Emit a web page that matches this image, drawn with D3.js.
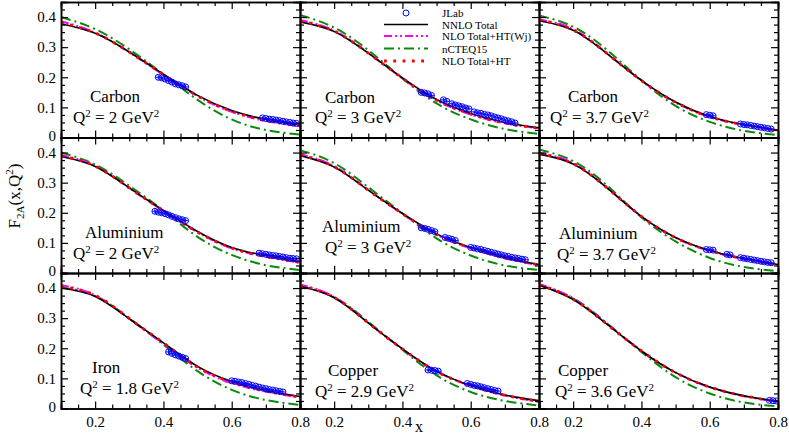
<!DOCTYPE html>
<html>
<head>
<meta charset="utf-8">
<script src="https://d3js.org/d3.v7.min.js"></script>
<style>
body { margin: 0; background: #fff; }
</style>
</head>
<body>
<div id="chart"></div>
<script>
var serif = "'Liberation Serif', 'Times New Roman', serif";

var xGrid = [0.1, 0.2, 0.3, 0.4, 0.5, 0.6, 0.7, 0.8];

// panels, row by row
var nucleus = ["Carbon", "Carbon", "Carbon", "Aluminium", "Aluminium", "Aluminium", "Iron", "Copper", "Copper"];
var q2 = ["2", "3", "3.7", "2", "3", "3.7", "1.8", "2.9", "3.6"];

var nnloTotal = [
    [0.378, 0.346, 0.284, 0.210, 0.140, 0.090, 0.060, 0.042],
    [0.384, 0.352, 0.280, 0.198, 0.126, 0.080, 0.050, 0.032],
    [0.388, 0.356, 0.278, 0.190, 0.118, 0.070, 0.043, 0.024],
    [0.387, 0.354, 0.283, 0.208, 0.138, 0.085, 0.058, 0.038],
    [0.390, 0.352, 0.275, 0.198, 0.130, 0.085, 0.052, 0.028],
    [0.395, 0.362, 0.282, 0.188, 0.118, 0.075, 0.048, 0.028],
    [0.400, 0.372, 0.298, 0.218, 0.140, 0.090, 0.060, 0.040],
    [0.406, 0.368, 0.284, 0.198, 0.124, 0.076, 0.045, 0.026],
    [0.410, 0.362, 0.279, 0.191, 0.119, 0.071, 0.042, 0.024]
];

var nloTotalHTWj = [
    [0.386, 0.348, 0.283, 0.208, 0.137, 0.085, 0.055, 0.037],
    [0.390, 0.355, 0.281, 0.196, 0.123, 0.076, 0.047, 0.030],
    [0.392, 0.360, 0.279, 0.189, 0.116, 0.068, 0.041, 0.022],
    [0.392, 0.356, 0.282, 0.206, 0.135, 0.082, 0.054, 0.034],
    [0.395, 0.355, 0.276, 0.196, 0.127, 0.082, 0.049, 0.026],
    [0.400, 0.365, 0.283, 0.188, 0.117, 0.073, 0.046, 0.025],
    [0.410, 0.376, 0.298, 0.215, 0.135, 0.084, 0.056, 0.036],
    [0.412, 0.371, 0.285, 0.197, 0.123, 0.075, 0.043, 0.022],
    [0.414, 0.366, 0.281, 0.192, 0.120, 0.071, 0.041, 0.022]
];

var ncteq15 = [
    [0.400, 0.360, 0.293, 0.210, 0.125, 0.060, 0.025, 0.010],
    [0.407, 0.365, 0.290, 0.196, 0.113, 0.060, 0.028, 0.012],
    [0.405, 0.368, 0.290, 0.190, 0.105, 0.052, 0.022, 0.008],
    [0.400, 0.360, 0.290, 0.207, 0.120, 0.060, 0.026, 0.010],
    [0.408, 0.365, 0.285, 0.198, 0.115, 0.058, 0.025, 0.010],
    [0.410, 0.372, 0.290, 0.185, 0.105, 0.050, 0.020, 0.006],
    [0.402, 0.374, 0.300, 0.212, 0.124, 0.062, 0.028, 0.012],
    [0.406, 0.370, 0.288, 0.195, 0.110, 0.055, 0.025, 0.010],
    [0.410, 0.366, 0.282, 0.188, 0.104, 0.050, 0.020, 0.007]
];

var nloTotalHT = [
    [0.382, 0.347, 0.284, 0.209, 0.138, 0.087, 0.057, 0.039],
    [0.387, 0.353, 0.280, 0.197, 0.124, 0.078, 0.048, 0.031],
    [0.390, 0.357, 0.278, 0.189, 0.117, 0.069, 0.042, 0.023],
    [0.389, 0.355, 0.283, 0.207, 0.136, 0.083, 0.055, 0.035],
    [0.392, 0.353, 0.275, 0.197, 0.128, 0.083, 0.050, 0.027],
    [0.397, 0.363, 0.282, 0.188, 0.117, 0.074, 0.047, 0.026],
    [0.405, 0.376, 0.299, 0.218, 0.138, 0.087, 0.058, 0.038],
    [0.408, 0.369, 0.284, 0.198, 0.123, 0.076, 0.044, 0.024],
    [0.411, 0.363, 0.279, 0.191, 0.119, 0.071, 0.042, 0.023]
];

// JLab points [x, F2A, error]
var jlab = [
    [[0.385, 0.200, 0.007], [0.395, 0.198, 0.007], [0.405, 0.194, 0.007], [0.415, 0.189, 0.007], [0.425, 0.184, 0.007],
     [0.435, 0.178, 0.007], [0.445, 0.175, 0.007], [0.455, 0.172, 0.007], [0.465, 0.168, 0.007],
     [0.690, 0.065, 0.005], [0.700, 0.063, 0.005], [0.710, 0.061, 0.005], [0.720, 0.060, 0.005], [0.730, 0.058, 0.005],
     [0.740, 0.056, 0.005], [0.750, 0.054, 0.005], [0.760, 0.052, 0.005], [0.770, 0.050, 0.005], [0.780, 0.048, 0.005], [0.790, 0.047, 0.005]],
    [[0.455, 0.150, 0.006], [0.465, 0.148, 0.006], [0.475, 0.145, 0.006], [0.485, 0.140, 0.006], [0.520, 0.125, 0.006],
     [0.530, 0.120, 0.006], [0.545, 0.112, 0.006], [0.555, 0.108, 0.006], [0.565, 0.105, 0.006], [0.575, 0.102, 0.006],
     [0.585, 0.098, 0.006], [0.595, 0.095, 0.006], [0.610, 0.085, 0.005], [0.620, 0.082, 0.005], [0.630, 0.080, 0.005],
     [0.640, 0.077, 0.005], [0.650, 0.075, 0.005], [0.660, 0.072, 0.005], [0.670, 0.068, 0.005], [0.680, 0.065, 0.005],
     [0.690, 0.062, 0.005], [0.700, 0.058, 0.005], [0.710, 0.055, 0.005], [0.720, 0.052, 0.005], [0.730, 0.048, 0.005]],
    [[0.590, 0.076, 0.005], [0.600, 0.074, 0.005], [0.610, 0.072, 0.005],
     [0.690, 0.045, 0.005], [0.700, 0.043, 0.005], [0.710, 0.042, 0.005], [0.720, 0.040, 0.005], [0.730, 0.038, 0.005],
     [0.740, 0.036, 0.005], [0.750, 0.034, 0.005], [0.760, 0.032, 0.005], [0.770, 0.030, 0.005], [0.780, 0.028, 0.005]],
    [[0.375, 0.205, 0.007], [0.385, 0.202, 0.007], [0.395, 0.200, 0.007], [0.405, 0.197, 0.007], [0.415, 0.193, 0.007],
     [0.425, 0.188, 0.007], [0.435, 0.184, 0.007], [0.445, 0.180, 0.007], [0.455, 0.177, 0.007], [0.465, 0.174, 0.007],
     [0.680, 0.066, 0.005], [0.690, 0.064, 0.005], [0.700, 0.062, 0.005], [0.710, 0.060, 0.005], [0.720, 0.058, 0.005],
     [0.730, 0.057, 0.005], [0.740, 0.055, 0.005], [0.750, 0.053, 0.005], [0.760, 0.051, 0.005], [0.770, 0.049, 0.005],
     [0.780, 0.048, 0.005], [0.790, 0.047, 0.005]],
    [[0.455, 0.150, 0.006], [0.465, 0.148, 0.006], [0.475, 0.145, 0.006], [0.485, 0.141, 0.006], [0.495, 0.137, 0.006],
     [0.525, 0.118, 0.006], [0.535, 0.115, 0.006], [0.545, 0.112, 0.006], [0.555, 0.108, 0.006], [0.600, 0.085, 0.005],
     [0.610, 0.083, 0.005], [0.620, 0.080, 0.005], [0.630, 0.078, 0.005], [0.640, 0.075, 0.005], [0.650, 0.072, 0.005],
     [0.660, 0.069, 0.005], [0.670, 0.066, 0.005], [0.680, 0.063, 0.005], [0.690, 0.060, 0.005], [0.700, 0.057, 0.005],
     [0.710, 0.055, 0.005], [0.720, 0.052, 0.005], [0.730, 0.050, 0.005], [0.740, 0.048, 0.005], [0.750, 0.046, 0.005], [0.760, 0.044, 0.005]],
    [[0.590, 0.078, 0.005], [0.600, 0.077, 0.005], [0.610, 0.076, 0.005], [0.650, 0.062, 0.005], [0.660, 0.060, 0.005],
     [0.690, 0.051, 0.005], [0.700, 0.049, 0.005], [0.710, 0.047, 0.005], [0.720, 0.045, 0.005], [0.730, 0.043, 0.005],
     [0.740, 0.041, 0.005], [0.750, 0.039, 0.005], [0.760, 0.037, 0.005], [0.770, 0.035, 0.005], [0.780, 0.034, 0.005]],
    [[0.415, 0.188, 0.008], [0.425, 0.183, 0.008], [0.435, 0.178, 0.008], [0.445, 0.174, 0.008], [0.455, 0.170, 0.008], [0.465, 0.166, 0.008],
     [0.600, 0.092, 0.005], [0.610, 0.090, 0.005], [0.620, 0.088, 0.005], [0.630, 0.086, 0.005], [0.640, 0.083, 0.005],
     [0.650, 0.080, 0.005], [0.660, 0.077, 0.005], [0.670, 0.074, 0.005], [0.680, 0.071, 0.005], [0.690, 0.068, 0.005],
     [0.700, 0.066, 0.005], [0.710, 0.063, 0.005], [0.720, 0.061, 0.005], [0.730, 0.059, 0.005], [0.740, 0.057, 0.005], [0.750, 0.055, 0.005]],
    [[0.475, 0.128, 0.006], [0.485, 0.127, 0.006], [0.495, 0.126, 0.006], [0.505, 0.124, 0.006],
     [0.590, 0.083, 0.005], [0.600, 0.080, 0.005], [0.610, 0.077, 0.005], [0.620, 0.075, 0.005], [0.630, 0.072, 0.005],
     [0.640, 0.069, 0.005], [0.650, 0.066, 0.005], [0.660, 0.063, 0.005], [0.670, 0.060, 0.005], [0.680, 0.058, 0.005]],
    [[0.775, 0.027, 0.004], [0.785, 0.026, 0.004], [0.795, 0.025, 0.004]]
];

var xTicks = [0.2, 0.4, 0.6, 0.8];
var xMinor = [0.1, 0.15, 0.25, 0.3, 0.35, 0.45, 0.5, 0.55, 0.65, 0.7, 0.75];
var yTicks = [0, 0.1, 0.2, 0.3, 0.4];
var yMinor = [0.025, 0.05, 0.075, 0.125, 0.15, 0.175, 0.225, 0.25, 0.275, 0.325, 0.35, 0.375, 0.425];

// layout
var margin = { top: 2, left: 61 },
    panelW = 239,
    panelH = 135.5;

var svg = d3.select("#chart")
    .append("svg")
    .attr("width", 789)
    .attr("height", 436);

var x = d3.scaleLinear().domain([0.1, 0.8]).range([0, panelW]);
var y = d3.scaleLinear().domain([0, 0.45]).range([panelH, 0]);

var line = d3.line()
    .x((d, i) => x(xGrid[i]))
    .y(d => y(d))
    .curve(d3.curveNatural);

// drawing order: green, magenta, black, red dots
var styles = [
    { key: "nCTEQ15", data: ncteq15, color: "#0a8a0a", width: 2, dash: "10,4,2,4" },
    { key: "NLO Total+HT(Wj)", data: nloTotalHTWj, color: "#ff00ff", width: 2, dash: "8,3,2,3,2,3" },
    { key: "NNLO Total", data: nnloTotal, color: "#000000", width: 1.6, dash: null },
    { key: "NLO Total+HT", data: nloTotalHT, color: "#ff0000", width: 2.8, dash: "2.8,6.5" }
];

// label spots inside each panel: [name x, name y, Q2 x, Q2 y]
var labelPos = [
    [29, 99.5, 12, 120.5], [25, 100.5, 15, 121], [29, 99.5, 11, 120.5],
    [24, 100, 12, 121], [22, 94, 25, 115], [20, 101.5, 18, 122.5],
    [31, 99.5, 19, 120.5], [28, 103, 15, 124], [19, 103, 16, 124]
];

svg.append("defs").append("clipPath")
    .attr("id", "panel-clip")
    .append("rect")
    .attr("width", panelW)
    .attr("height", panelH);

nucleus.forEach(function(name, p) {
    var row = Math.floor(p / 3), col = p % 3;
    var g = svg.append("g")
        .attr("class", "panel")
        .attr("transform", "translate(" + (margin.left + col * panelW) + "," + (margin.top + row * panelH) + ")");

    // curves
    var curves = g.append("g").attr("clip-path", "url(#panel-clip)");
    styles.forEach(function(s) {
        curves.append("path")
            .datum(s.data[p])
            .attr("d", line)
            .attr("fill", "none")
            .attr("stroke", s.color)
            .attr("stroke-width", s.width)
            .attr("stroke-dasharray", s.dash);
    });

    // JLab points with error bars
    var pts = curves.selectAll("g.jlab")
        .data(jlab[p])
        .enter()
        .append("g")
        .attr("class", "jlab");
    pts.append("line")
        .attr("x1", d => x(d[0])).attr("x2", d => x(d[0]))
        .attr("y1", d => y(d[1] - d[2])).attr("y2", d => y(d[1] + d[2]))
        .attr("stroke", "#0000ff").attr("stroke-width", 1);
    pts.append("line")
        .attr("x1", d => x(d[0] - 0.008)).attr("x2", d => x(d[0] + 0.008))
        .attr("y1", d => y(d[1])).attr("y2", d => y(d[1]))
        .attr("stroke", "#0000ff").attr("stroke-width", 1);
    pts.append("circle")
        .attr("cx", d => x(d[0]))
        .attr("cy", d => y(d[1]))
        .attr("r", 3)
        .attr("fill", "none")
        .attr("stroke", "#0000ff")
        .attr("stroke-width", 1);

    // axes on all four sides, ticks pointing in
    g.append("g").attr("class", "ax").attr("transform", "translate(0," + panelH + ")")
        .call(d3.axisBottom(x).tickValues(xTicks).tickSize(-7).tickPadding(8)
            .tickFormat(row == 2 ? d3.format(".1f") : ""));
    g.append("g").attr("class", "ax minor").attr("transform", "translate(0," + panelH + ")")
        .call(d3.axisBottom(x).tickValues(xMinor).tickSize(-4).tickFormat(""));
    g.append("g").attr("class", "ax")
        .call(d3.axisTop(x).tickValues(xTicks).tickSize(-7).tickFormat(""));
    g.append("g").attr("class", "ax minor")
        .call(d3.axisTop(x).tickValues(xMinor).tickSize(-4).tickFormat(""));
    g.append("g").attr("class", "ax yleft")
        .call(d3.axisLeft(y).tickValues(yTicks).tickSize(-7).tickPadding(5)
            .tickFormat(col == 0 ? (d => d == 0 ? "0" : d3.format(".1f")(d)) : ""));
    g.append("g").attr("class", "ax minor")
        .call(d3.axisLeft(y).tickValues(yMinor).tickSize(-4).tickFormat(""));
    g.append("g").attr("class", "ax").attr("transform", "translate(" + panelW + ",0)")
        .call(d3.axisRight(y).tickValues(yTicks).tickSize(-7).tickFormat(""));
    g.append("g").attr("class", "ax minor").attr("transform", "translate(" + panelW + ",0)")
        .call(d3.axisRight(y).tickValues(yMinor).tickSize(-4).tickFormat(""));

    // panel labels
    var lp = labelPos[p];
    g.append("text")
        .attr("x", lp[0]).attr("y", lp[1])
        .style("font-family", serif)
        .style("font-size", "17px")
        .text(name);
    var q = g.append("text")
        .attr("x", lp[2]).attr("y", lp[3])
        .style("font-family", serif)
        .style("font-size", "17px");
    q.append("tspan").text("Q");
    q.append("tspan").attr("dy", -6).style("font-size", "11px").text("2");
    q.append("tspan").attr("dy", 6).text(" = " + q2[p] + " GeV");
    q.append("tspan").attr("dy", -6).style("font-size", "11px").text("2");
});

svg.selectAll(".ax path.domain").attr("stroke", "#000").attr("stroke-width", 1.5);
svg.selectAll(".ax line").attr("stroke", "#000").attr("stroke-width", 1.2);
svg.selectAll(".ax text")
    .style("font-family", serif)
    .style("font-size", "15px")
    .attr("fill", "#000");
// lift the "0" labels a little so they clear the 0.4 of the panel below
svg.selectAll(".yleft .tick text")
    .filter(d => d == 0)
    .attr("dy", "0.18em");

// legend inside the top middle panel
var legend = svg.append("g")
    .attr("class", "legend")
    .attr("transform", "translate(384,0)");
var legendRows = [
    { label: "JLab", y: 13 },
    { label: "NNLO Total", y: 24.5, s: styles[2] },
    { label: "NLO Total+HT(Wj)", y: 36, s: styles[1] },
    { label: "nCTEQ15", y: 48.5, s: styles[0] },
    { label: "NLO Total+HT", y: 61, s: styles[3] }
];
legendRows.forEach(function(r) {
    if (r.s) {
        legend.append("line")
            .attr("x1", 0).attr("x2", 44)
            .attr("y1", r.y).attr("y2", r.y)
            .attr("stroke", r.s.color)
            .attr("stroke-width", r.s.width)
            .attr("stroke-dasharray", r.s.dash);
    } else {
        legend.append("circle")
            .attr("cx", 22).attr("cy", r.y).attr("r", 3)
            .attr("fill", "none").attr("stroke", "#0000ff").attr("stroke-width", 1);
    }
    legend.append("text")
        .attr("x", 58).attr("y", r.y + 4)
        .style("font-family", serif)
        .style("font-size", "11px")
        .text(r.label);
});

// axis titles
svg.append("text")
    .attr("x", 419).attr("y", 432)
    .attr("text-anchor", "middle")
    .style("font-family", serif)
    .style("font-size", "16px")
    .text("x");

var yt = svg.append("text")
    .attr("transform", "translate(20,196) rotate(-90)")
    .attr("text-anchor", "middle")
    .style("font-family", serif)
    .style("font-size", "17px");
yt.append("tspan").text("F");
yt.append("tspan").attr("dy", 4).style("font-size", "11px").text("2A");
yt.append("tspan").attr("dy", -4).text("(x,Q");
yt.append("tspan").attr("dy", -7).style("font-size", "11px").text("2");
yt.append("tspan").attr("dy", 7).text(")");
</script>
</body>
</html>
